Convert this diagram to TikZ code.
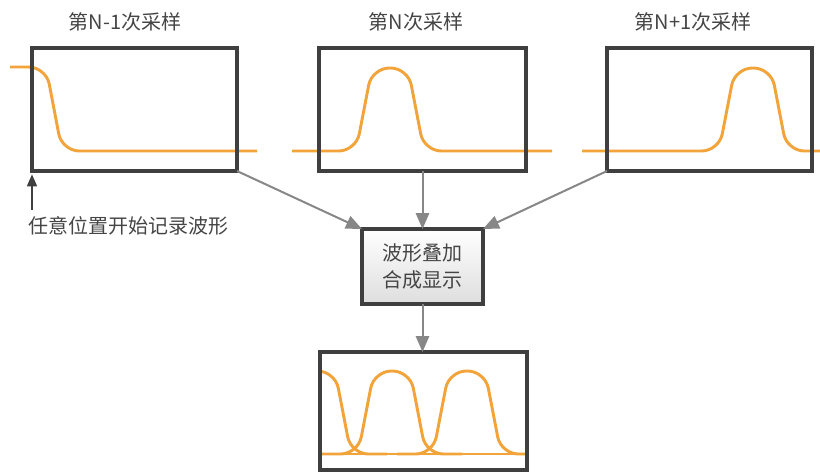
\documentclass[tikz,border=0pt]{standalone}
\usepackage{fontspec}
\setmainfont{Noto Sans CJK SC}
\usetikzlibrary{arrows.meta}
\definecolor{boxc}{HTML}{3F3F3F}
\definecolor{wavec}{HTML}{F2A33A}
\definecolor{arrc}{HTML}{878787}
\definecolor{txtc}{HTML}{454545}
\begin{document}
\begin{tikzpicture}[x=0.75pt,y=-0.75pt,
  frame/.style={draw=boxc,line width=3pt,inner sep=0pt,outer sep=0pt},
  wave/.style={draw=wavec,line width=2.2pt,rounded corners=13pt},
  lbl/.style={text=txtc,font=\fontsize{15pt}{20pt}\selectfont,inner sep=0pt},
  garrow/.style={draw=arrc,line width=1.5pt,-{Triangle[length=12pt,width=10pt]}},
  barrow/.style={draw=boxc,line width=1.2pt,-{Triangle[length=9pt,width=7.5pt]}}]
\useasboundingbox (0,0) rectangle (820,475);
% waveforms (drawn first, frames on top)
\draw[wave] (10,67) -- (46,67) -- (62,151) -- (257,151);
\draw[wave] (292,151) -- (356,151) -- (372,68) -- (408,68) -- (424,151) -- (552,151);
\draw[wave] (582,151) -- (719,151) -- (735,68) -- (771,68) -- (787,151) -- (822,151);
\begin{scope}
  \clip (320,352) rectangle (527,470);
  \draw[wave] (300,454) -- (540,454);
  \foreach \c in {317,392,467}{
    \draw[wave] (\c-70,454) -- (\c-34,454) -- (\c-18,371) -- (\c+18,371) -- (\c+34,454) -- (\c+70,454);
  }
\end{scope}
% frames
\node[frame,minimum width=153.75pt,minimum height=92.25pt] (b1) at (134.5,109.5) {};
\node[frame,minimum width=155.25pt,minimum height=92.25pt] (b2) at (422.5,109.5) {};
\node[frame,minimum width=153.75pt,minimum height=92.25pt] (b3) at (709.5,109.5) {};
\node[frame,minimum width=155.25pt,minimum height=88.5pt] (b4) at (423.5,411) {};
\node[frame,top color=white,bottom color=black!13,minimum width=90.75pt,minimum height=56.25pt,
      lbl,align=center] (c) at (422.5,266.5) {波形叠加\\合成显示};
% titles
\node[lbl] (t1) at (125,22) {第N-1次采样};
\node[lbl] (t2) at (416,22) {第N次采样};
\node[lbl] (t3) at (693,22) {第N+1次采样};
\node[lbl] (lab) at (128.5,226) {任意位置开始记录波形};
% connectors
\coordinate (ast) at (32,210);
\draw[barrow,shorten >=2.5pt] (ast) -- (b1.south west);
\draw[garrow] (b1.south east) -- (c.north west);
\draw[garrow] (b2.south) -- (c.north);
\draw[garrow] (b3.south west) -- (c.north east);
\draw[garrow] (c.south) -- (c.south |- b4.north);
\end{tikzpicture}
\end{document}
